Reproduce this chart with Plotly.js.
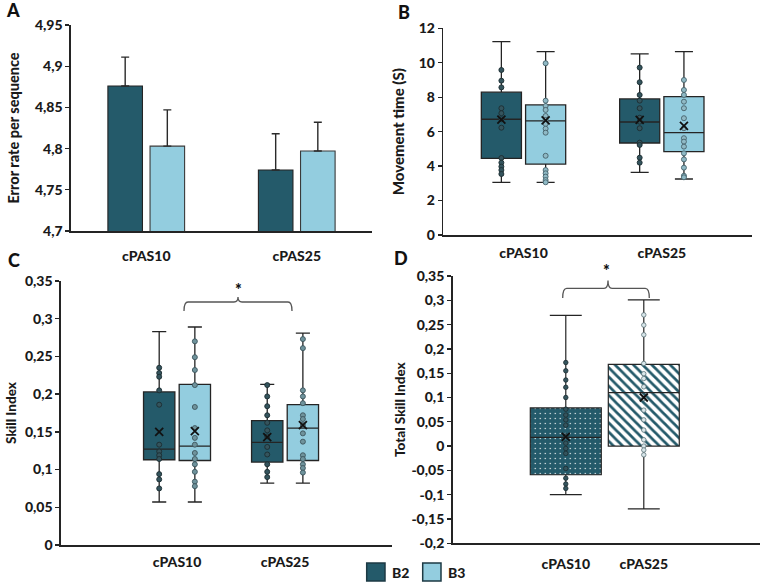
<!DOCTYPE html>
<html>
<head>
<meta charset="utf-8">
<script src="https://cdn.plot.ly/plotly-3.0.1.min.js"></script>
<style>
  html, body { margin: 0; padding: 0; background: #ffffff; }
  #chart { width: 762px; height: 583px; }
</style>
</head>
<body>
<div id="chart"></div>
<script>
// ---- categories and groups ----
const categories = ['cPAS10', 'cPAS25'];
const groupNames = ['B2', 'B3'];

// ---- A: error rate per sequence (mean + error) ----
const errorRateB2 = [4.876, 4.774];
const errorRateB3 = [4.803, 4.797];
const errorBarB2 = [0.035, 0.044];
const errorBarB3 = [0.044, 0.035];

// ---- B: movement time (s), box statistics ----
const mtB2Lower = [3.06, 3.64];
const mtB2Q1 = [4.45, 5.34];
const mtB2Median = [6.72, 6.56];
const mtB2Q3 = [8.29, 7.90];
const mtB2Upper = [11.23, 10.51];
const mtB2Mean = [6.70, 6.68];
const mtB3Lower = [3.06, 3.25];
const mtB3Q1 = [4.12, 4.84];
const mtB3Median = [6.62, 5.94];
const mtB3Q3 = [7.55, 8.03];
const mtB3Upper = [10.65, 10.65];
const mtB3Mean = [6.65, 6.33];
const mtB2PointsCPAS10 = [9.58, 8.96, 8.57, 7.36, 7.07, 6.72, 6.23, 4.47, 4.20, 3.97, 3.77, 3.54];
const mtB2PointsCPAS25 = [9.72, 8.87, 8.13, 7.80, 7.36, 6.81, 6.58, 6.20, 5.36, 5.23, 4.49, 4.20];
const mtB3PointsCPAS10 = [9.97, 7.80, 7.49, 7.26, 6.91, 6.68, 6.45, 6.17, 5.94, 4.60, 3.77, 3.58, 3.39, 3.19, 3.06];
const mtB3PointsCPAS25 = [9.00, 8.42, 8.13, 7.74, 7.36, 6.78, 6.20, 5.62, 5.42, 5.13, 4.74, 4.39, 3.91, 3.44, 3.35];

// ---- C: skill index, box statistics ----
const siB2Lower = [0.057, 0.082];
const siB2Q1 = [0.113, 0.110];
const siB2Median = [0.127, 0.136];
const siB2Q3 = [0.203, 0.165];
const siB2Upper = [0.283, 0.213];
const siB2Mean = [0.150, 0.143];
const siB3Lower = [0.057, 0.082];
const siB3Q1 = [0.112, 0.112];
const siB3Median = [0.131, 0.155];
const siB3Q3 = [0.213, 0.186];
const siB3Upper = [0.289, 0.281];
const siB3Mean = [0.151, 0.159];
const siB2PointsCPAS10 = [0.235, 0.228, 0.223, 0.205, 0.186, 0.133, 0.124, 0.119, 0.114, 0.094, 0.087, 0.075];
const siB2PointsCPAS25 = [0.212, 0.197, 0.184, 0.172, 0.162, 0.152, 0.144, 0.130, 0.120, 0.107, 0.097, 0.090];
const siB3PointsCPAS10 = [0.270, 0.249, 0.232, 0.212, 0.183, 0.155, 0.142, 0.133, 0.122, 0.114, 0.107, 0.097, 0.084, 0.078];
const siB3PointsCPAS25 = [0.273, 0.261, 0.205, 0.197, 0.188, 0.172, 0.167, 0.159, 0.148, 0.137, 0.119, 0.114, 0.107, 0.102, 0.096];

// ---- D: total skill index (B2 for cPAS10, B3 for cPAS25) ----
const tsiCPAS10Stats = { lower: -0.100, q1: -0.059, median: 0.018, q3: 0.0785, upper: 0.269, mean: 0.019 };
const tsiCPAS25Stats = { lower: -0.129, q1: 0.000, median: 0.110, q3: 0.168, upper: 0.301, mean: 0.100 };
const tsiPointsCPAS10 = [0.172, 0.155, 0.136, 0.121, 0.100, 0.076, 0.064, 0.054, 0.043, 0.021, 0.006, -0.005, -0.015, -0.046, -0.066, -0.078, -0.087];
const tsiPointsCPAS25 = [0.270, 0.249, 0.229, 0.170, 0.149, 0.139, 0.122, 0.098, 0.074, 0.054, 0.033, 0.013, 0.000, -0.008, -0.018];

// ---- tick values and labels (comma decimal) ----
const errTickVals = [4.7, 4.75, 4.8, 4.85, 4.9, 4.95];
const errTickText = ['4,7', '4,75', '4,8', '4,85', '4,9', '4,95'];
const mtTickVals = [0, 2, 4, 6, 8, 10, 12];
const mtTickText = ['0', '2', '4', '6', '8', '10', '12'];
const siTickVals = [0, 0.05, 0.1, 0.15, 0.2, 0.25, 0.3, 0.35];
const siTickText = ['0', '0,05', '0,1', '0,15', '0,2', '0,25', '0,3', '0,35'];
const tsiTickVals = [-0.2, -0.15, -0.1, -0.05, 0, 0.05, 0.1, 0.15, 0.2, 0.25, 0.3, 0.35];
const tsiTickText = ['-0,2', '-0,15', '-0,1', '-0,05', '0', '0,05', '0,1', '0,15', '0,2', '0,25', '0,3', '0,35'];

// ---- style ----
const W = 762, H = 583;
const px = x => x / W;
const py = y => 1 - y / H;
const DARK = '#245a6a';
const LIGHT = '#93cddf';
const INK = '#242424';
const FONT = 'Lato, "Open Sans", sans-serif';
const HEAVY = 900;
const catIndex = categories.map((c, i) => i);
const meanMarker = { symbol: 'x-thin-open', size: 8, color: '#111111', line: { color: '#111111', width: 1.8 } };

function boxSet(xa, ya, offset, width, stats, pts, fill, ptFill, ptLine, name) {
  const pos = catIndex.map(i => i + offset);
  const traces = [];
  traces.push({
    type: 'box', name: name, xaxis: xa, yaxis: ya,
    x: pos, q1: stats.q1, median: stats.median, q3: stats.q3,
    lowerfence: stats.lower, upperfence: stats.upper,
    width: width, boxpoints: false, whiskerwidth: 0.45,
    fillcolor: fill, line: { color: INK, width: 1.3 },
    hoverinfo: 'skip', showlegend: false
  });
  const xs = [], ys = [];
  pts.forEach((arr, i) => arr.forEach(v => { xs.push(pos[i]); ys.push(v); }));
  traces.push({
    type: 'scatter', mode: 'markers', xaxis: xa, yaxis: ya, x: xs, y: ys,
    marker: { size: 5, color: ptFill, line: { color: ptLine, width: 0.9 } },
    hoverinfo: 'skip', showlegend: false
  });
  traces.push({
    type: 'scatter', mode: 'markers', xaxis: xa, yaxis: ya, x: pos, y: stats.mean,
    marker: meanMarker, hoverinfo: 'skip', showlegend: false
  });
  return traces;
}

const traces = [];

// A: grouped bars with error bars
traces.push({
  type: 'bar', name: groupNames[0], x: categories, y: errorRateB2, xaxis: 'x', yaxis: 'y',
  marker: { color: DARK, line: { color: INK, width: 1.1 } },
  error_y: { type: 'data', array: errorBarB2, arrayminus: [0, 0], symmetric: false, color: '#2a2a2a', thickness: 1.4, width: 4 }
});
traces.push({
  type: 'bar', name: groupNames[1], x: categories, y: errorRateB3, xaxis: 'x', yaxis: 'y',
  marker: { color: LIGHT, line: { color: '#3a3a3a', width: 1.1 } },
  error_y: { type: 'data', array: errorBarB3, arrayminus: [0, 0], symmetric: false, color: '#2a2a2a', thickness: 1.4, width: 4 }
});

// B: movement time boxes
traces.push(...boxSet('x2', 'y2', -0.16, 0.29,
  { lower: mtB2Lower, q1: mtB2Q1, median: mtB2Median, q3: mtB2Q3, upper: mtB2Upper, mean: mtB2Mean },
  [mtB2PointsCPAS10, mtB2PointsCPAS25], DARK, '#34545d', '#1c2c31', 'B2'));
traces.push(...boxSet('x2', 'y2', 0.16, 0.29,
  { lower: mtB3Lower, q1: mtB3Q1, median: mtB3Median, q3: mtB3Q3, upper: mtB3Upper, mean: mtB3Mean },
  [mtB3PointsCPAS10, mtB3PointsCPAS25], LIGHT, '#8fb9c5', '#45616a', 'B3'));

// C: skill index boxes
traces.push(...boxSet('x3', 'y3', -0.165, 0.29,
  { lower: siB2Lower, q1: siB2Q1, median: siB2Median, q3: siB2Q3, upper: siB2Upper, mean: siB2Mean },
  [siB2PointsCPAS10, siB2PointsCPAS25], DARK, '#34545d', '#1c2c31', 'B2'));
traces.push(...boxSet('x3', 'y3', 0.165, 0.29,
  { lower: siB3Lower, q1: siB3Q1, median: siB3Median, q3: siB3Q3, upper: siB3Upper, mean: siB3Mean },
  [siB3PointsCPAS10, siB3PointsCPAS25], LIGHT, '#6f939c', '#3c555c', 'B3'));

// D: patterned boxes (pattern drawn as floating bars under transparent boxes)
const dWidth = 0.91;
const dSets = [
  { i: 0, s: tsiCPAS10Stats, pts: tsiPointsCPAS10, name: 'B2',
    pattern: { shape: '.', bgcolor: DARK, fgcolor: '#ffffff', size: 5, solidity: 0.05 },
    ptFill: '#34545d', ptLine: '#1c2c31' },
  { i: 1, s: tsiCPAS25Stats, pts: tsiPointsCPAS25, name: 'B3',
    pattern: { shape: '\\', bgcolor: '#ffffff', fgcolor: DARK, size: 6.5, solidity: 0.42 },
    ptFill: '#d8e6ea', ptLine: '#5d7379' }
];
dSets.forEach(d => {
  traces.push({
    type: 'bar', xaxis: 'x4', yaxis: 'y4', x: [d.i], base: [d.s.q1], y: [d.s.q3 - d.s.q1],
    width: dWidth, offset: -dWidth / 2,
    marker: { color: d.pattern.bgcolor, line: { width: 0 }, pattern: d.pattern },
    hoverinfo: 'skip', showlegend: false
  });
  traces.push({
    type: 'box', xaxis: 'x4', yaxis: 'y4', x: [d.i],
    q1: [d.s.q1], median: [d.s.median], q3: [d.s.q3],
    lowerfence: [d.s.lower], upperfence: [d.s.upper],
    width: dWidth, boxpoints: false, whiskerwidth: 0.45,
    fillcolor: 'rgba(0,0,0,0)', line: { color: INK, width: 1.2 },
    hoverinfo: 'skip', showlegend: false
  });
  traces.push({
    type: 'scatter', mode: 'markers', xaxis: 'x4', yaxis: 'y4',
    x: d.pts.map(() => d.i), y: d.pts,
    marker: { size: 4.5, color: d.ptFill, line: { color: d.ptLine, width: 0.8 } },
    hoverinfo: 'skip', showlegend: false
  });
  traces.push({
    type: 'scatter', mode: 'markers', xaxis: 'x4', yaxis: 'y4', x: [d.i], y: [d.s.mean],
    marker: meanMarker, hoverinfo: 'skip', showlegend: false
  });
});

// ---- axes ----
const tickFont = { family: FONT, size: 14, weight: HEAVY, color: '#1a1a1a' };
function xAxis(domain, anchor, range, ticklen, numeric) {
  const ax = {
    domain: domain, anchor: anchor, range: range,
    showline: true, linecolor: INK, linewidth: 1.6,
    showgrid: false, zeroline: false,
    ticks: 'outside', ticklen: ticklen, tickcolor: 'rgba(0,0,0,0)',
    tickfont: tickFont, fixedrange: true
  };
  if (numeric) { ax.type = 'linear'; ax.tickvals = catIndex; ax.ticktext = categories; }
  else { ax.type = 'category'; }
  return ax;
}
function yAxis(domain, anchor, range, vals, text, title, tsize, standoff) {
  return {
    domain: domain, anchor: anchor, range: range,
    showline: true, linecolor: INK, linewidth: 1.6,
    showgrid: false, zeroline: false,
    ticks: 'outside', ticklen: 4, tickwidth: 1.3, tickcolor: INK,
    tickvals: vals, ticktext: text, tickfont: tickFont,
    title: { text: title, font: { family: FONT, size: tsize, weight: HEAVY, color: '#1a1a1a' }, standoff: standoff },
    fixedrange: true
  };
}

// bracket helper (pixel coordinates -> paper)
function bracket(x1, x2, xm, yLine, yEnd, yTop) {
  const P = (x, y) => px(x) + ',' + py(y);
  return 'M' + P(x1, yEnd) + ' Q' + P(x1, yLine) + ' ' + P(x1 + 4, yLine) +
    ' L' + P(xm - 4, yLine) + ' Q' + P(xm, yLine) + ' ' + P(xm, yTop) +
    ' Q' + P(xm, yLine) + ' ' + P(xm + 4, yLine) +
    ' L' + P(x2 - 4, yLine) + ' Q' + P(x2, yLine) + ' ' + P(x2, yEnd);
}

const letterFont = { family: FONT, size: 18, weight: HEAVY, color: '#111' };
const starFont = { family: FONT, size: 16, weight: HEAVY, color: '#111' };
const legendFont = { family: FONT, size: 14, weight: HEAVY, color: '#1a1a1a' };
const layout = {
  width: W, height: H, margin: { l: 0, r: 0, t: 0, b: 0 },
  paper_bgcolor: '#ffffff', plot_bgcolor: 'rgba(0,0,0,0)',
  showlegend: false, barmode: 'group', bargap: 0.44, bargroupgap: 0.18, boxmode: 'overlay',
  font: { family: FONT, color: '#1a1a1a' },
  xaxis: xAxis([px(71), px(372)], 'y', [-0.5, 1.5], 12, false),
  yaxis: yAxis([py(231), py(25)], 'x', [4.7, 4.95], errTickVals, errTickText, 'Error rate per sequence', 14.5, 12),
  xaxis2: xAxis([px(443.3), px(751.7)], 'y2', [-0.58, 1.65], 5, true),
  yaxis2: yAxis([py(235), py(28.3)], 'x2', [0, 12], mtTickVals, mtTickText, 'Movement time (S)', 15, 10),
  xaxis3: xAxis([px(61), px(392)], 'y3', [-1.074, 1.99], 4, true),
  yaxis3: yAxis([py(545), py(281)], 'x3', [0, 0.35], siTickVals, siTickText, 'Skill Index', 13.5, 5),
  xaxis4: xAxis([px(452.7), px(760)], 'y4', [-1.45, 2.49], 7, true),
  yaxis4: yAxis([py(543.3), py(276)], 'x4', [-0.2, 0.35], tsiTickVals, tsiTickText, 'Total Skill Index', 13.5, 2),
  shapes: [
    { type: 'path', xref: 'paper', yref: 'paper', path: bracket(184, 292, 238, 302, 311, 297), line: { color: '#555', width: 1.3 } },
    { type: 'path', xref: 'paper', yref: 'paper', path: bracket(562.7, 649.3, 608, 288.3, 298, 280.5), line: { color: '#555', width: 1.3 } },
    { type: 'rect', xref: 'paper', yref: 'paper', x0: px(366.7), x1: px(385), y0: py(581), y1: py(563), fillcolor: DARK, line: { color: '#1d3a44', width: 1.5 } },
    { type: 'rect', xref: 'paper', yref: 'paper', x0: px(422.7), x1: px(441), y0: py(581), y1: py(563), fillcolor: LIGHT, line: { color: '#1d3a44', width: 1.5 } }
  ],
  annotations: [
    { text: 'A', x: px(4), y: py(10), xref: 'paper', yref: 'paper', xanchor: 'left', yanchor: 'middle', showarrow: false, font: letterFont },
    { text: 'B', x: px(396), y: py(12), xref: 'paper', yref: 'paper', xanchor: 'left', yanchor: 'middle', showarrow: false, font: letterFont },
    { text: 'C', x: px(6), y: py(260), xref: 'paper', yref: 'paper', xanchor: 'left', yanchor: 'middle', showarrow: false, font: letterFont },
    { text: 'D', x: px(392), y: py(258), xref: 'paper', yref: 'paper', xanchor: 'left', yanchor: 'middle', showarrow: false, font: letterFont },
    { text: '*', x: px(238), y: py(289), xref: 'paper', yref: 'paper', xanchor: 'center', yanchor: 'middle', showarrow: false, font: starFont },
    { text: '*', x: px(606), y: py(270), xref: 'paper', yref: 'paper', xanchor: 'center', yanchor: 'middle', showarrow: false, font: starFont },
    { text: groupNames[0], x: px(390), y: py(572), xref: 'paper', yref: 'paper', xanchor: 'left', yanchor: 'middle', showarrow: false, font: legendFont },
    { text: groupNames[1], x: px(446), y: py(572), xref: 'paper', yref: 'paper', xanchor: 'left', yanchor: 'middle', showarrow: false, font: legendFont }
  ]
};

Plotly.newPlot('chart', traces, layout, { staticPlot: true, displayModeBar: false });
</script>
</body>
</html>
